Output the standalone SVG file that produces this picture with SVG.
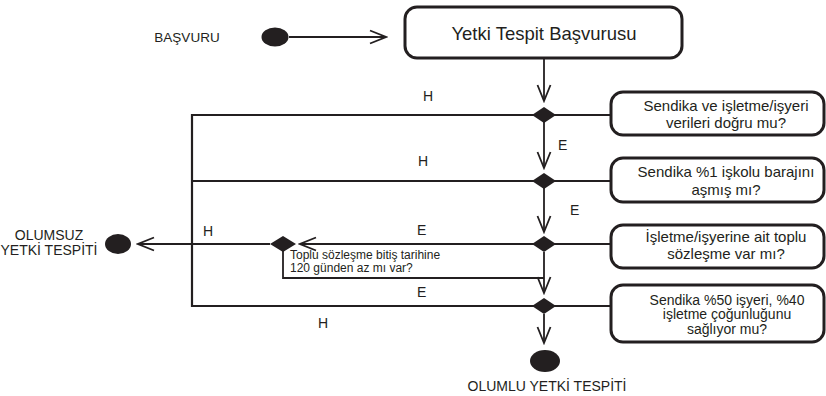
<svg xmlns="http://www.w3.org/2000/svg" width="826" height="396" viewBox="0 0 826 396">
<defs>
<marker id="arr" markerUnits="userSpaceOnUse" markerWidth="20" markerHeight="16" viewBox="-18 -8 20 16" refX="0" refY="0" orient="auto">
<path d="M-16,-6.5 L0,0 L-16,6.5" fill="none" stroke="#231f20" stroke-width="1.8"/>
</marker>
</defs>
<style>
text{font-family:"Liberation Sans",Arial,sans-serif;fill:#231f20;}
.c{text-anchor:middle;}
.lbl{font-size:14px;}
.q{font-size:15px;}
.box{fill:#fff;stroke:#231f20;stroke-width:3;}
.ln{fill:none;stroke:#231f20;stroke-width:1.8;}
.lp{fill:none;stroke:#231f20;stroke-width:2.2;}
.dot{fill:#231f20;}
.dia{fill:#231f20;}
</style>
<g id="connectors">
<line class="ln" x1="289" y1="37" x2="386" y2="37" marker-end="url(#arr)"/>
<line class="ln" x1="544" y1="59" x2="544" y2="101" marker-end="url(#arr)"/>
<line class="ln" x1="544" y1="122" x2="544" y2="168" marker-end="url(#arr)"/>
<line class="ln" x1="544" y1="188" x2="544" y2="232" marker-end="url(#arr)"/>
<line class="ln" x1="544" y1="252" x2="544" y2="293" marker-end="url(#arr)"/>
<line class="ln" x1="544" y1="314" x2="544" y2="343" marker-end="url(#arr)"/>
<path class="lp" d="M611,115 H192 V306 H611"/>
<line class="lp" x1="192" y1="181" x2="611" y2="181"/>
<line class="ln" x1="611" y1="244" x2="300" y2="244" marker-end="url(#arr)"/>
<line class="ln" x1="270" y1="244" x2="138" y2="244" marker-end="url(#arr)"/>
<path class="ln" d="M283,251 V278 H544"/>
</g>
<g id="start">
<ellipse class="dot" cx="275" cy="37" rx="13.5" ry="9.5"/>
<text class="lbl" x="187" y="42" text-anchor="middle" style="font-size:13.5px">BAŞVURU</text>
</g>
<g id="title">
<rect class="box" x="405" y="7" width="277" height="51" rx="12"/>
<text class="c" x="544" y="40" style="font-size:18.5px">Yetki Tespit Başvurusu</text>
</g>
<g id="d1"><polygon class="dia" points="544,107 556,115 544,123 532,115"/></g>
<g id="d2"><polygon class="dia" points="544,173 556,181 544,189 532,181"/></g>
<g id="d3"><polygon class="dia" points="544,236 556,244 544,252 532,244"/></g>
<g id="d4"><polygon class="dia" points="544,298 556,306 544,314 532,306"/></g>
<g id="d5"><polygon class="dia" points="283,236 296,244 283,252 270,244"/></g>
<g id="q1">
<rect class="box" x="611" y="92" width="213" height="43" rx="12"/>
<text class="c q" x="726" y="111">Sendika ve işletme/işyeri</text>
<text class="c q" x="726" y="128">verileri doğru mu?</text>
</g>
<g id="q2">
<rect class="box" x="611" y="158" width="213" height="44" rx="12"/>
<text class="c q" x="726" y="177">Sendika %1 işkolu barajını</text>
<text class="c q" x="726" y="195">aşmış mı?</text>
</g>
<g id="q3">
<rect class="box" x="611" y="225" width="213" height="43" rx="12"/>
<text class="c q" x="726" y="242">İşletme/işyerine ait toplu</text>
<text class="c q" x="726" y="259">sözleşme var mı?</text>
</g>
<g id="q4">
<rect class="box" x="611" y="285" width="213" height="57" rx="12"/>
<text class="c" x="727" y="304.5" style="font-size:14px">Sendika %50 işyeri, %40</text>
<text class="c" x="727" y="319" style="font-size:14px">işletme çoğunluğunu</text>
<text class="c" x="727" y="333.5" style="font-size:14px">sağlıyor mu?</text>
</g>
<g id="q5">
<text x="290" y="258.5" style="font-size:12px">Toplu sözleşme bitiş tarihine</text>
<text x="290" y="271.5" style="font-size:12px">120 günden az mı var?</text>
</g>
<g id="neg">
<ellipse class="dot" cx="118" cy="244" rx="13" ry="10"/>
<text class="c" x="49" y="239.5" style="font-size:14px">OLUMSUZ</text>
<text class="c lbl" x="49" y="255">YETKİ TESPİTİ</text>
</g>
<g id="pos">
<ellipse class="dot" cx="545" cy="361" rx="15" ry="11"/>
<text class="c lbl" x="547" y="391">OLUMLU YETKİ TESPİTİ</text>
</g>
<g id="labels">
<text class="lbl" x="423" y="101">H</text>
<text class="lbl" x="418" y="166">H</text>
<text class="lbl" x="203" y="236">H</text>
<text class="lbl" x="318" y="328">H</text>
<text class="lbl" x="558" y="150">E</text>
<text class="lbl" x="570" y="215">E</text>
<text class="lbl" x="417" y="235">E</text>
<text class="lbl" x="417" y="297">E</text>
</g>
</svg>
